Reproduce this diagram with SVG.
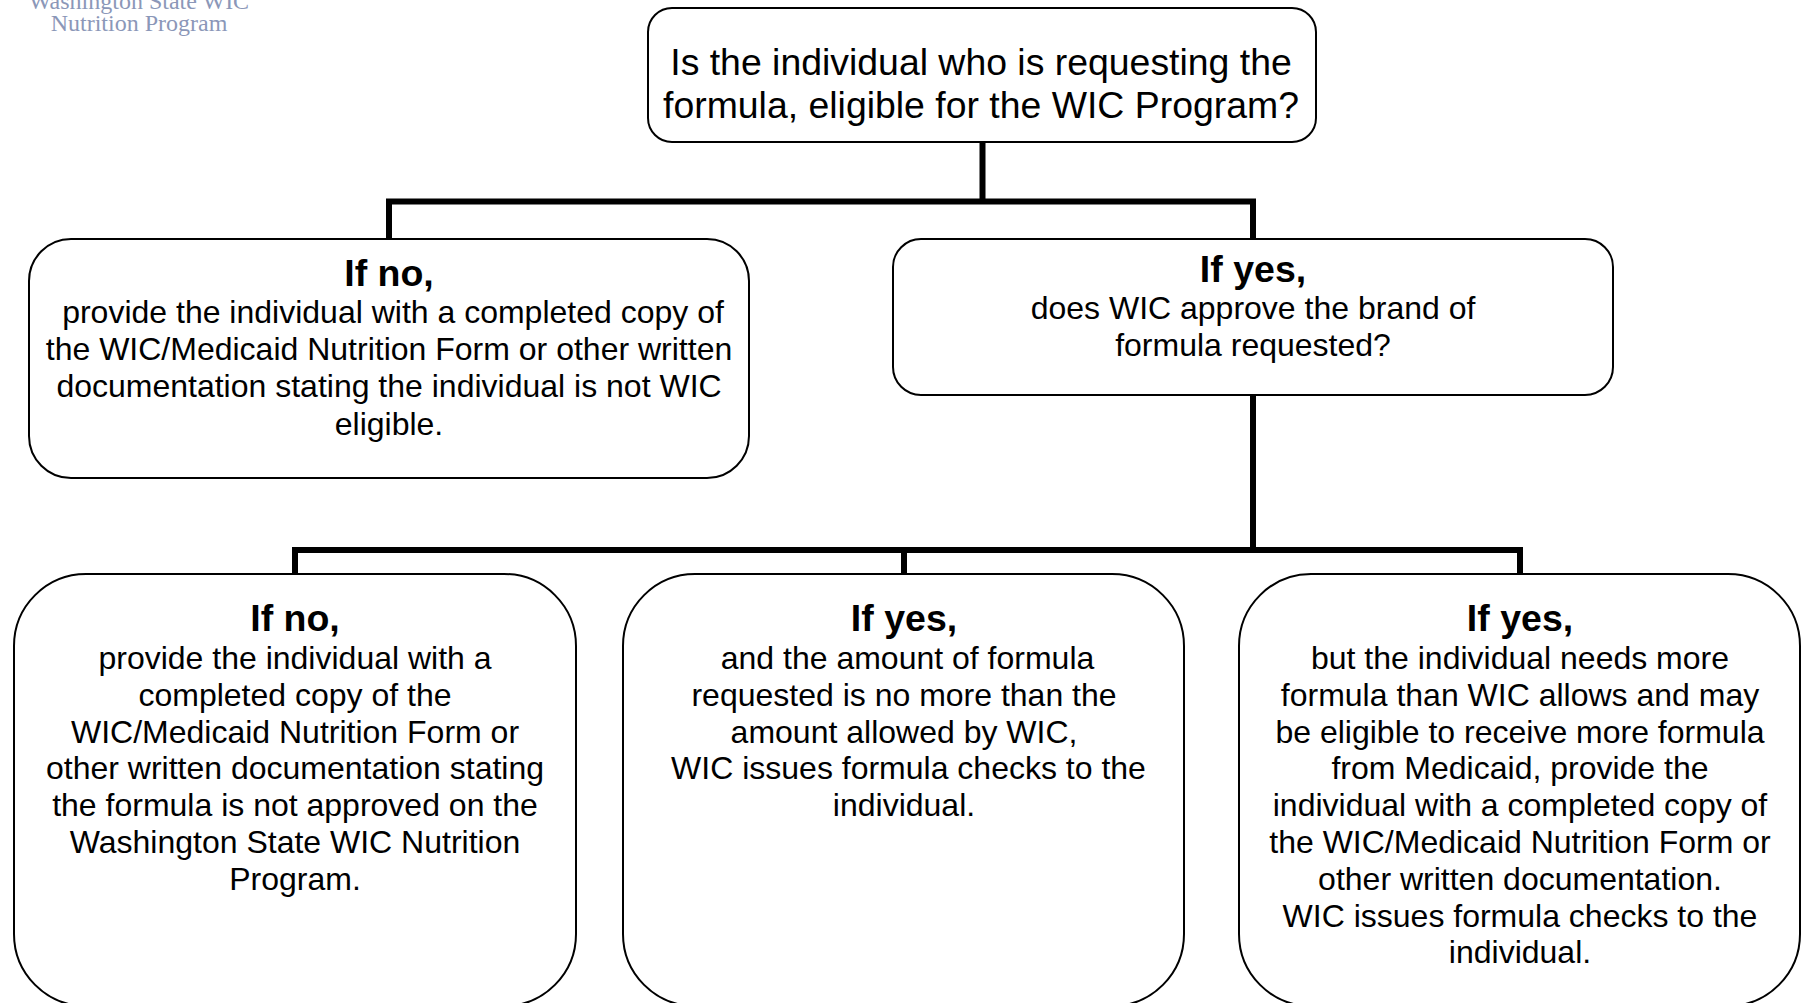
<svg xmlns="http://www.w3.org/2000/svg" width="1806" height="1003" viewBox="0 0 1806 1003">
<style>
text{font-family:"Liberation Sans",Arial,sans-serif;fill:#000;text-anchor:middle}
.box{fill:#fff;stroke:#000;stroke-width:2}
.q{font-size:37.400px}
.t{font-size:37.500px;font-weight:bold}
.b{font-size:32px}
.c{fill:none;stroke:#000;stroke-width:6}
.logo{font-family:"Liberation Serif",serif;font-size:24px;fill:#8b97b8}
</style>
<rect width="1806" height="1003" fill="#fff"/>
<g id="logo"><text class="logo" x="139" y="9">Washington State WIC</text><text class="logo" x="139" y="31">Nutrition Program</text></g>
<g id="connectors">
<path class="c" d="M982.500 142V201.500M389 238V201.500H1253V238M1253 395V550M295 574V550H1520V574M904 550V574"/>
</g>
<g id="root"><rect class="box" x="648" y="8" width="668" height="134" rx="24"/>
<text class="q" x="981" y="75">Is the individual who is requesting the</text>
<text class="q" x="981" y="118">formula, eligible for the WIC Program?</text></g>
<g id="no1"><rect class="box" x="29" y="239" width="720" height="239" rx="42"/>
<text class="t" x="389" y="286">If no,</text>
<text class="b" x="393" y="323">provide the individual with a completed copy of</text>
<text class="b" x="389" y="360">the WIC/Medicaid Nutrition Form or other written</text>
<text class="b" x="389" y="397">documentation stating the individual is not WIC</text>
<text class="b" x="389" y="435">eligible.</text></g>
<g id="yes1"><rect class="box" x="893" y="239" width="720" height="156" rx="28"/>
<text class="t" x="1253" y="282">If yes,</text>
<text class="b" x="1253" y="319">does WIC approve the brand of</text>
<text class="b" x="1253" y="356">formula requested?</text></g>
<g id="no2"><rect class="box" x="14" y="574" width="562" height="432" rx="72"/>
<text class="t" x="295" y="631">If no,</text>
<text class="b" x="295" y="669">provide the individual with a</text>
<text class="b" x="295" y="706">completed copy of the</text>
<text class="b" x="295" y="743">WIC/Medicaid Nutrition Form or</text>
<text class="b" x="295" y="779">other written documentation stating</text>
<text class="b" x="295" y="816">the formula is not approved on the</text>
<text class="b" x="295" y="853">Washington State WIC Nutrition</text>
<text class="b" x="295" y="890">Program.</text></g>
<g id="yes2"><rect class="box" x="623" y="574" width="561" height="432" rx="72"/>
<text class="t" x="904" y="631">If yes,</text>
<text class="b" x="907.500" y="669">and the amount of formula</text>
<text class="b" x="904" y="706">requested is no more than the</text>
<text class="b" x="904" y="743">amount allowed by WIC,</text>
<text class="b" x="908.500" y="779">WIC issues formula checks to the</text>
<text class="b" x="904" y="816">individual.</text></g>
<g id="yes3"><rect class="box" x="1239" y="574" width="561" height="432" rx="72"/>
<text class="t" x="1520" y="631">If yes,</text>
<text class="b" x="1520" y="669">but the individual needs more</text>
<text class="b" x="1520" y="706">formula than WIC allows and may</text>
<text class="b" x="1520" y="743">be eligible to receive more formula</text>
<text class="b" x="1520" y="779">from Medicaid, provide the</text>
<text class="b" x="1520" y="816">individual with a completed copy of</text>
<text class="b" x="1520" y="853">the WIC/Medicaid Nutrition Form or</text>
<text class="b" x="1520" y="890">other written documentation.</text>
<text class="b" x="1520" y="927">WIC issues formula checks to the</text>
<text class="b" x="1520" y="963">individual.</text></g>
</svg>
